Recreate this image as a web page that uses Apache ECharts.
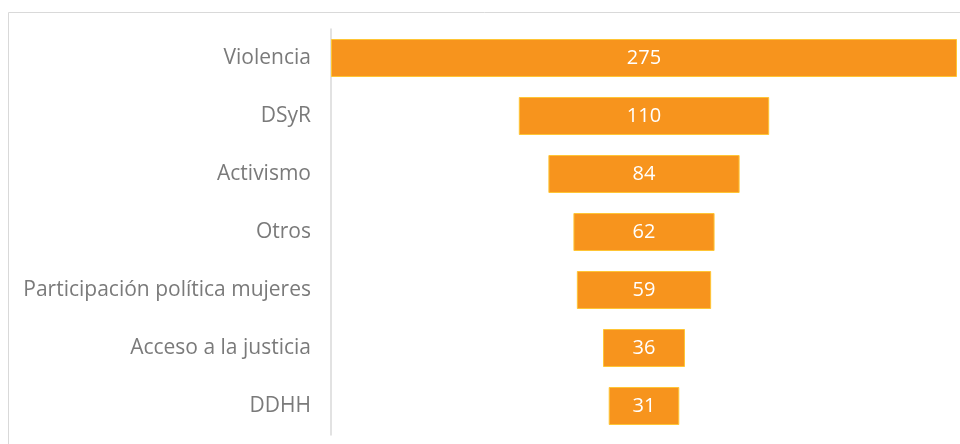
<!DOCTYPE html>
<html>
<head>
<meta charset="utf-8">
<script src="https://cdn.jsdelivr.net/npm/echarts@6/dist/echarts.min.js"></script>
<style>
  html, body { margin: 0; padding: 0; background: #ffffff; }
  #chart { width: 960px; height: 444px; }
</style>
</head>
<body>
<div id="chart"></div>
<script>
// categories (top to bottom) and their counts
var categories = ['Violencia', 'DSyR', 'Activismo', 'Otros', 'Participación política mujeres', 'Acceso a la justicia', 'DDHH'];
var values = [275, 110, 84, 62, 59, 36, 31];

var maxVal = Math.max.apply(null, values);
// invisible spacer so each bar sits centred, like a funnel
var spacer = values.map(function (v) { return (maxVal - v) / 2; });

var chart = echarts.init(document.getElementById('chart'));

var option = {
  animation: false,
  graphic: [{
    type: 'rect',
    shape: { x: 8.5, y: 12.5, width: 1000, height: 500 },
    style: { fill: 'none', stroke: '#d9d9d9', lineWidth: 1 },
    silent: true
  }],
  grid: { left: 331, right: 3, top: 29, bottom: 9 },
  xAxis: {
    type: 'value',
    min: 0,
    max: maxVal,
    show: false
  },
  yAxis: {
    type: 'category',
    inverse: true,
    data: categories,
    axisLine: { show: true, lineStyle: { color: '#d9d9d9', width: 1.5 } },
    axisTick: { show: false },
    axisLabel: {
      color: '#7a7a7a',
      fontSize: 21,
      fontFamily: 'Open Sans',
      margin: 20
    }
  },
  series: [
    {
      name: 'spacer',
      type: 'bar',
      stack: 'f',
      data: spacer,
      barWidth: 38,
      itemStyle: { color: 'transparent' },
      silent: true
    },
    {
      name: 'valor',
      type: 'bar',
      stack: 'f',
      data: values,
      barWidth: 38,
      itemStyle: { color: '#f7941d', borderColor: '#ffc535', borderWidth: 1 },
      label: {
        show: true,
        position: 'inside',
        color: '#ffffff',
        fontSize: 20,
        fontFamily: 'Open Sans'
      }
    }
  ]
};

chart.setOption(option);
</script>
</body>
</html>
